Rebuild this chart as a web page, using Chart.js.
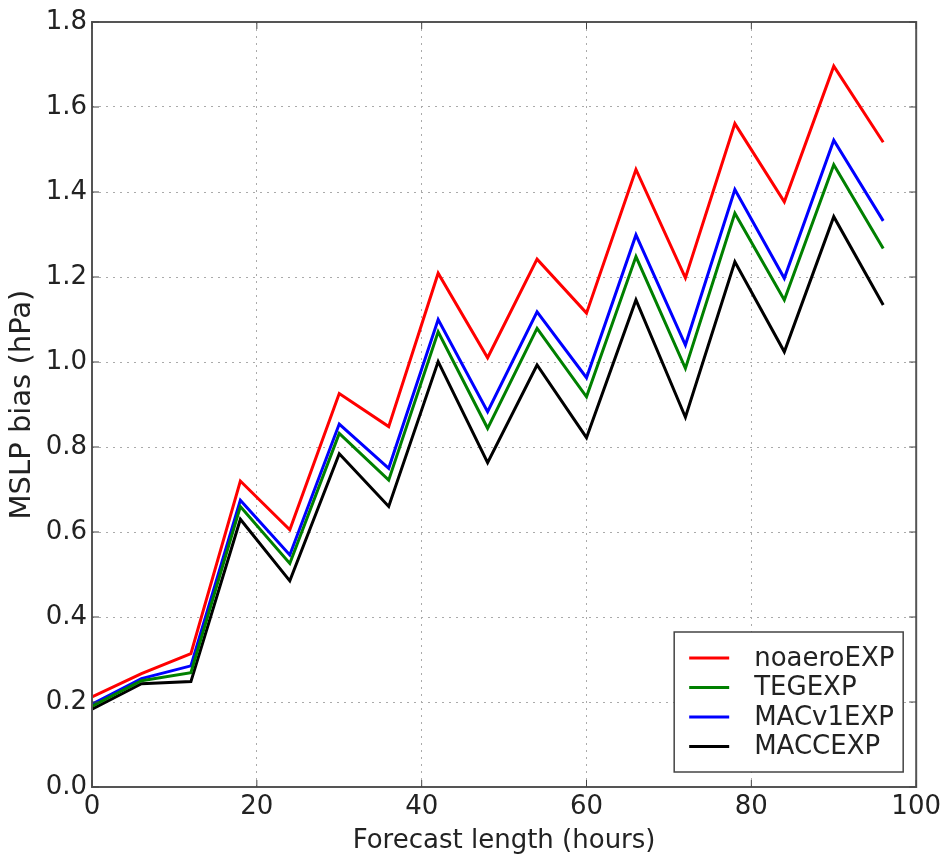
<!DOCTYPE html>
<html lang="en">
<head>
    <meta charset="UTF-8">
    <title>MSLP bias</title>
    <script src="https://cdn.jsdelivr.net/npm/chart.js"></script>
    <style>
        html, body { margin: 0; padding: 0; background: #fff; }
        #wrap { width: 946px; height: 859px; }
    </style>
</head>
<body>
    <div id="wrap"><canvas id="grafico"></canvas></div>

    <script>
        // data
        const hours = [0, 6, 12, 18, 24, 30, 36, 42, 48, 54, 60, 66, 72, 78, 84, 90, 96];
        const noaeroEXP = [0.212, 0.267, 0.314, 0.72, 0.605, 0.926, 0.848, 1.209, 1.01, 1.242, 1.115, 1.453, 1.198, 1.561, 1.377, 1.696, 1.517];
        const TEGEXP    = [0.19, 0.25, 0.269, 0.66, 0.526, 0.832, 0.722, 1.071, 0.844, 1.079, 0.918, 1.248, 0.985, 1.35, 1.146, 1.464, 1.267];
        const MACv1EXP  = [0.195, 0.255, 0.285, 0.675, 0.546, 0.854, 0.75, 1.10, 0.883, 1.118, 0.963, 1.299, 1.04, 1.406, 1.197, 1.522, 1.332];
        const MACCEXP   = [0.183, 0.243, 0.248, 0.63, 0.485, 0.784, 0.66, 1.001, 0.763, 0.993, 0.822, 1.146, 0.87, 1.236, 1.024, 1.342, 1.134];
        const yTicks = [0.0, 0.2, 0.4, 0.6, 0.8, 1.0, 1.2, 1.4, 1.6, 1.8];
        const xTicks = [0, 20, 40, 60, 80, 100];

        const fuente = 'DejaVu Sans';

        function serie(label, values, color) {
            return {
                label: label,
                data: hours.map((h, i) => ({ x: h, y: values[i] })),
                borderColor: color,
                backgroundColor: color,
                borderWidth: 3,
                pointRadius: 0,
                tension: 0,
                fill: false
            };
        }

        // frame + inward ticks + legend, matplotlib style
        const marco = {
            id: 'marco',
            afterDraw(chart) {
                const ctx = chart.ctx;
                const a = chart.chartArea;
                const xs = chart.scales.x, ys = chart.scales.y;
                ctx.save();
                ctx.strokeStyle = '#555';
                ctx.lineWidth = 2;
                ctx.strokeRect(a.left, a.top, a.right - a.left, a.bottom - a.top);

                ctx.lineWidth = 1;
                ctx.strokeStyle = '#444';
                xTicks.forEach(t => {
                    const px = xs.getPixelForValue(t);
                    ctx.beginPath();
                    ctx.moveTo(px, a.bottom); ctx.lineTo(px, a.bottom - 7);
                    ctx.moveTo(px, a.top); ctx.lineTo(px, a.top + 7);
                    ctx.stroke();
                });
                yTicks.forEach(t => {
                    const py = ys.getPixelForValue(t);
                    ctx.beginPath();
                    ctx.moveTo(a.left, py); ctx.lineTo(a.left + 7, py);
                    ctx.moveTo(a.right, py); ctx.lineTo(a.right - 7, py);
                    ctx.stroke();
                });

                // legend box in lower right corner
                const bx = a.right - 242, by = a.bottom - 155, bw = 229, bh = 140;
                ctx.fillStyle = '#fff';
                ctx.fillRect(bx, by, bw, bh);
                ctx.strokeStyle = '#444';
                ctx.lineWidth = 1.5;
                ctx.strokeRect(bx, by, bw, bh);
                ctx.font = '26px ' + fuente;
                ctx.textBaseline = 'middle';
                chart.data.datasets.forEach((ds, i) => {
                    const y = by + 26 + i * 29.5;
                    ctx.strokeStyle = ds.borderColor;
                    ctx.lineWidth = 3;
                    ctx.beginPath();
                    ctx.moveTo(bx + 15, y); ctx.lineTo(bx + 55, y);
                    ctx.stroke();
                    ctx.fillStyle = '#222';
                    ctx.fillText(ds.label, bx + 80, y + 1);
                });
                ctx.restore();
            }
        };

        const ctx = document.getElementById('grafico').getContext('2d');
        new Chart(ctx, {
            type: 'line',
            data: {
                datasets: [
                    serie('noaeroEXP', noaeroEXP, '#ff0000'),
                    serie('TEGEXP', TEGEXP, '#008000'),
                    serie('MACv1EXP', MACv1EXP, '#0000ff'),
                    serie('MACCEXP', MACCEXP, '#000000')
                ]
            },
            options: {
                responsive: true,
                maintainAspectRatio: false,
                animation: false,
                layout: { padding: { top: 22, right: 26, left: 0, bottom: 0 } },
                plugins: {
                    legend: { display: false },
                    tooltip: { enabled: false }
                },
                scales: {
                    x: {
                        type: 'linear',
                        min: 0, max: 100,
                        afterBuildTicks(s) { s.ticks = xTicks.map(v => ({ value: v })); },
                        afterFit(s) { s.height = 72; },
                        grid: { color: '#aaa', lineWidth: 1, drawTicks: false },
                        border: { display: false, dash: [2, 5] },
                        ticks: {
                            color: '#222', padding: 5,
                            font: { family: fuente, size: 26 },
                            maxRotation: 0
                        },
                        title: {
                            display: true, text: 'Forecast length (hours)',
                            color: '#222', font: { family: fuente, size: 26 },
                            padding: { top: 0, bottom: 2 }
                        }
                    },
                    y: {
                        min: 0, max: 1.8,
                        afterBuildTicks(s) { s.ticks = yTicks.map(v => ({ value: v })); },
                        afterFit(s) { s.width = 92; },
                        grid: { color: '#aaa', lineWidth: 1, drawTicks: false },
                        border: { display: false, dash: [2, 5] },
                        ticks: {
                            color: '#222', padding: 5,
                            font: { family: fuente, size: 26 },
                            callback: v => v.toFixed(1)
                        },
                        title: {
                            display: true, text: 'MSLP bias (hPa)',
                            color: '#222', font: { family: fuente, size: 29 },
                            padding: { top: 5, bottom: 0 }
                        }
                    }
                }
            },
            plugins: [marco]
        });
    </script>
</body>
</html>
